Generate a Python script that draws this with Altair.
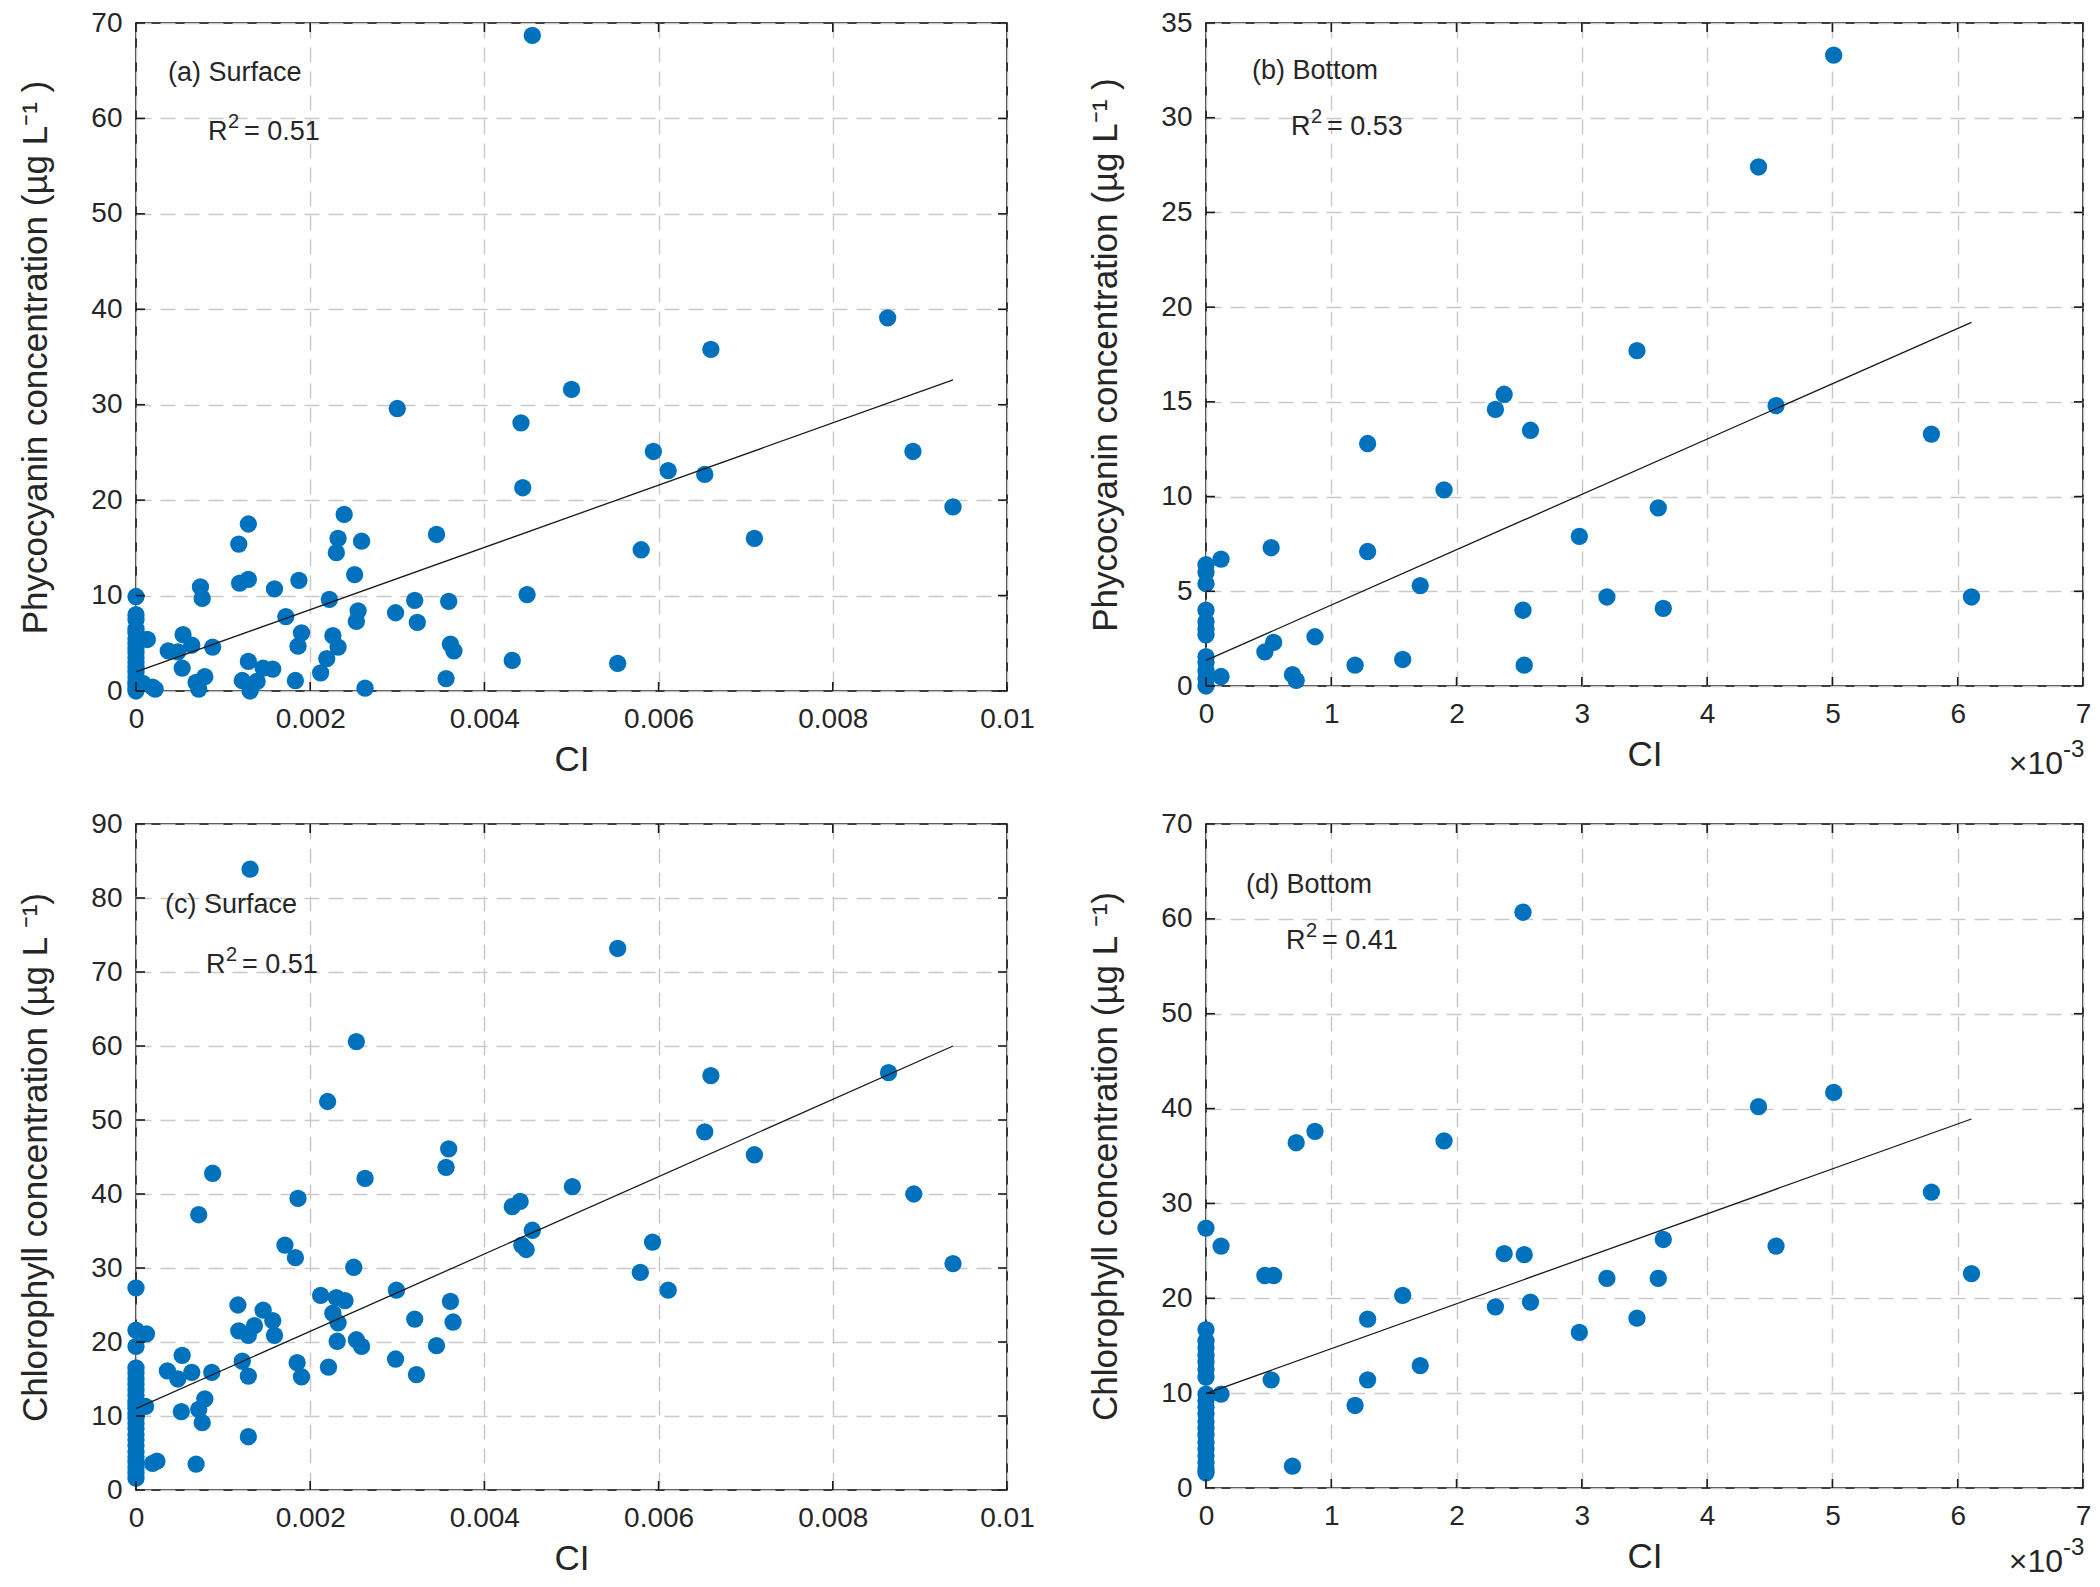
import altair as alt
import pandas as pd

FONT = "Liberation Sans"
BLUE = "#0072BD"

# ---------------- Panel (a): Surface, phycocyanin vs CI ----------------
a_ci = [0.00455, 0.00863, 0.0066, 0.0050, 0.0030, 0.00442, 0.00594, 0.00892, 0.00611, 0.00653,
        0.00444, 0.00938, 0.00239, 0.00129, 0.00345, 0.00232, 0.00259, 0.0071, 0.00118, 0.0058,
        0.0023, 0.00251, 0.00129, 0.00119, 0.00187, 0.00074, 0.00076, 0.00159, 0.00449, 0.00222,
        0.0032, 0.00359, 0.00255, 0.00298, 0.00253, 0.00323, 0.00172, 0.0019, 0.00054, 0.00013,
        0.00226, 0.00064, 0.00361, 0.00186, 0.00232, 0.00088, 0.00037, 0.00048, 0.00365, 0.00432,
        0.00553, 0.00129, 0.00219, 0.00053, 0.00146, 0.00157, 0.00212, 0.00079, 0.00356, 0.00183,
        0.00122, 0.00139, 0.00069, 0.00072, 0.00131, 0.00263, 0.00019, 0.00022, 0.00008,
        0, 0, 0, 0, 0, 0, 0, 0, 0, 0, 0, 0, 0, 0, 0, 0, 0, 0]
a_pc = [68.7, 39.1, 35.8, 31.6, 29.6, 28.1, 25.1, 25.1, 23.1, 22.7,
        21.3, 19.3, 18.5, 17.5, 16.4, 16.0, 15.7, 16.0, 15.4, 14.8,
        14.5, 12.2, 11.7, 11.3, 11.6, 10.9, 9.7, 10.7, 10.1, 9.6,
        9.5, 9.4, 8.4, 8.2, 7.3, 7.2, 7.8, 6.1, 5.9, 5.4,
        5.8, 4.8, 4.9, 4.7, 4.6, 4.6, 4.2, 4.1, 4.2, 3.2,
        2.9, 3.1, 3.4, 2.4, 2.4, 2.3, 1.9, 1.5, 1.3, 1.1,
        1.1, 1.0, 0.9, 0.2, 0.0, 0.3, 0.4, 0.2, 0.8,
        9.9, 8.0, 7.5, 6.5, 6.1, 5.5, 5.0, 4.5, 4.0, 3.5, 3.0, 2.5, 2.0, 1.5, 1.0, 0.7, 0.3, 0.0]
a_fit_ci = [0.0, 0.00938]
a_fit_pc = [2.0, 32.6]

# ---------------- Panel (b): Bottom, phycocyanin vs CI (x 10^-3) ----------------
b_ci_e3 = [5.01, 4.41, 3.44, 2.38, 2.31, 4.55, 2.59, 5.79, 1.29, 1.90,
           3.61, 2.98, 0.52, 1.29, 0.12, 1.71, 3.20, 6.11, 2.53, 3.65,
           0.87, 0.54, 0.47, 1.57, 1.19, 2.54, 0.69, 0.72, 0.12,
           0, 0, 0, 0, 0, 0, 0, 0, 0, 0, 0, 0]
b_pc = [33.3, 27.4, 17.7, 15.4, 14.6, 14.8, 13.5, 13.3, 12.8, 10.35,
        9.4, 7.9, 7.3, 7.1, 6.7, 5.3, 4.7, 4.7, 4.0, 4.1,
        2.6, 2.3, 1.8, 1.4, 1.1, 1.1, 0.6, 0.3, 0.5,
        6.4, 6.0, 5.4, 4.0, 3.4, 3.0, 2.7, 1.55, 1.25, 0.8, 0.4, 0.0]
b_fit_ci_e3 = [0.0, 6.11]
b_fit_pc = [1.35, 19.2]

# ---------------- Panel (c): Surface, chlorophyll vs CI ----------------
c_ci = [0.00131, 0.00553, 0.00253, 0.00864, 0.0066, 0.0022, 0.00653, 0.00359, 0.0071, 0.00356,
        0.00088, 0.00263, 0.00501, 0.00893, 0.00186, 0.00441, 0.00432, 0.00072, 0.00455, 0.00593,
        0.00171, 0.00443, 0.00448, 0.00183, 0.00938, 0.0025, 0.00579, 0.00299, 0.00611, 0.0,
        0.00212, 0.0023, 0.0024, 0.00361, 0.00117, 0.00146, 0.00226, 0.0032, 0.00157, 0.00364,
        0.00232, 0.00136, 0.00118, 0.0, 0.00012, 0.00129, 0.00159, 0.00253, 0.00231, 0.00259,
        0.00345, 0.0, 0.00053, 0.00298, 0.00122, 0.00185, 0.00221, 0.00036, 0.00064, 0.00087,
        0.00322, 0.00129, 0.0019, 0.00048, 0.00079, 0.00072, 0.00052, 0.00076, 0.00011, 0.00129,
        0.00024, 0.00019, 0.00069,
        0, 0, 0, 0, 0, 0, 0, 0, 0, 0, 0, 0, 0, 0, 0, 0, 0, 0, 0, 0, 0, 0]
c_chl = [83.9, 73.2, 60.6, 56.4, 56.0, 52.5, 48.4, 46.1, 45.3, 43.6,
         42.8, 42.1, 41.0, 40.0, 39.4, 39.0, 38.3, 37.2, 35.1, 33.5,
         33.1, 33.1, 32.5, 31.4, 30.6, 30.1, 29.4, 27.0, 27.0, 27.3,
         26.3, 26.0, 25.6, 25.5, 25.0, 24.3, 23.9, 23.1, 22.9, 22.7,
         22.6, 22.2, 21.5, 21.6, 21.1, 20.9, 20.9, 20.3, 20.1, 19.4,
         19.5, 19.4, 18.2, 17.7, 17.4, 17.2, 16.6, 16.1, 15.9, 15.9,
         15.6, 15.4, 15.3, 15.0, 12.3, 10.9, 10.6, 9.1, 11.3, 7.2,
         3.9, 3.6, 3.5,
         16.5, 15.8, 15.0, 14.3, 13.5, 12.8, 12.0, 11.5, 11.0, 10.3, 9.7, 9.0, 8.3, 7.5,
         6.8, 6.0, 5.2, 4.5, 3.8, 3.0, 2.3, 1.6]
c_fit_ci = [0.0, 0.00938]
c_fit_chl = [11.0, 60.0]

# ---------------- Panel (d): Bottom, chlorophyll vs CI (x 10^-3) ----------------
d_ci_e3 = [2.53, 5.01, 4.41, 0.87, 0.72, 1.90, 5.79, 3.65, 0.12, 4.55,
           2.38, 2.54, 6.11, 0.47, 0.54, 3.20, 3.61, 1.57, 2.59, 2.31,
           3.44, 1.29, 2.98, 1.71, 0.52, 1.29, 1.19, 0.12, 0.69,
           0, 0, 0, 0, 0, 0, 0, 0, 0, 0, 0, 0, 0, 0, 0, 0, 0, 0, 0, 0, 0]
d_chl = [60.7, 41.7, 40.2, 37.6, 36.4, 36.6, 31.2, 26.2, 25.5, 25.5,
         24.7, 24.6, 22.6, 22.4, 22.4, 22.1, 22.1, 20.3, 19.6, 19.1,
         17.9, 17.8, 16.4, 12.9, 11.4, 11.4, 8.7, 9.9, 2.3,
         27.4, 16.7, 15.5, 14.8, 14.0, 13.3, 12.5, 11.7, 9.9, 9.2, 8.5, 7.8, 7.0,
         6.3, 5.6, 4.8, 4.1, 3.4, 2.7, 2.0, 1.6]
d_fit_ci_e3 = [0.0, 6.11]
d_fit_chl = [9.95, 38.9]

# ticks
x_ticks_surface = [0, 0.002, 0.004, 0.006, 0.008, 0.01]
x_ticks_bottom = [0, 1, 2, 3, 4, 5, 6, 7]
y_ticks_a = [0, 10, 20, 30, 40, 50, 60, 70]
y_ticks_b = [0, 5, 10, 15, 20, 25, 30, 35]
y_ticks_c = [0, 10, 20, 30, 40, 50, 60, 70, 80, 90]
y_ticks_d = [0, 10, 20, 30, 40, 50, 60, 70]

PC_TITLE = "Phycocyanin concentration (µg L\u207b\u00b9 )"
CHL_TITLE = "Chlorophyll concentration (µg L  \u207b\u00b9)"

TICK_FS = 28
TITLE_FS = 35
ANN_FS = 27
TXT = "#262626"
TICK_LEN = 9


def panel(x, y, fx, fy, xdom, ydom, xticks, yticks, ytitle, w, h,
          label, r2val, pos_label, pos_r2, exponent=False, exp_base=88):
    df = pd.DataFrame({"ci": x, "v": y})
    fit = pd.DataFrame({"ci": fx, "v": fy})
    xt = pd.DataFrame({"ci": xticks})
    yt = pd.DataFrame({"v": yticks})
    grid = dict(grid=True, gridDash=[15, 9], gridColor="#c9c9c9", gridWidth=1.5,
                domain=False, ticks=False, labelFont=FONT, titleFont=FONT,
                labelFontSize=TICK_FS, titleFontSize=TITLE_FS, labelColor=TXT,
                titleColor=TXT, titleFontWeight="normal")
    xaxis = alt.Axis(values=xticks, title="CI", labelPadding=14, titlePadding=9,
                     labelExpr="format(datum.value, '~g')", labelFlush=False, **grid)
    yaxis = alt.Axis(values=yticks, title=ytitle, labelPadding=14, titlePadding=37,
                     labelFlush=False, **grid)
    xsc = alt.Scale(domain=xdom, nice=False, zero=False)
    ysc = alt.Scale(domain=ydom, nice=False, zero=False)
    xs = alt.X("ci:Q", scale=xsc, axis=xaxis)
    ys = alt.Y("v:Q", scale=ysc, axis=yaxis)

    pts = alt.Chart(df).mark_circle(size=300, color=BLUE, opacity=1).encode(x=xs, y=ys)
    line = alt.Chart(fit).mark_line(color="#1a1a1a", strokeWidth=1.3).encode(x="ci:Q", y="v:Q")

    # inward ticks on all four sides of the box
    tk = dict(color="#1a1a1a", strokeWidth=1.6)
    xtick_b = alt.Chart(xt).mark_rule(**tk).encode(
        x=alt.X("ci:Q", scale=xsc), y=alt.value(h), y2=alt.value(h - TICK_LEN))
    xtick_t = alt.Chart(xt).mark_rule(**tk).encode(
        x=alt.X("ci:Q", scale=xsc), y=alt.value(0), y2=alt.value(TICK_LEN))
    ytick_l = alt.Chart(yt).mark_rule(**tk).encode(
        y=alt.Y("v:Q", scale=ysc), x=alt.value(0), x2=alt.value(TICK_LEN))
    ytick_r = alt.Chart(yt).mark_rule(**tk).encode(
        y=alt.Y("v:Q", scale=ysc), x=alt.value(w), x2=alt.value(w - TICK_LEN))

    def txt(s, px, py, fs, align="left", baseline="middle"):
        return alt.Chart(pd.DataFrame({"t": [s]})).mark_text(
            font=FONT, fontSize=fs, align=align, baseline=baseline, color=TXT
        ).encode(x=alt.value(px), y=alt.value(py), text="t:N")

    rx, ry = pos_r2
    layers = [pts, line, xtick_b, xtick_t, ytick_l, ytick_r,
              txt(label, pos_label[0], pos_label[1], ANN_FS),
              txt("R", rx, ry, ANN_FS),
              txt("2", rx + 20, ry - 10, 20),
              txt("= " + r2val, rx + 36, ry, ANN_FS)]
    if exponent:
        layers.append(txt("\u00d710", w - 20, h + exp_base, 32, align="right", baseline="alphabetic"))
        layers.append(txt("-3", w - 20, h + exp_base - 17, 24, align="left", baseline="alphabetic"))
    return alt.layer(*layers).properties(width=w, height=h)


pa = panel(a_ci, a_pc, a_fit_ci, a_fit_pc, [0, 0.01], [0, 70], x_ticks_surface, y_ticks_a,
           PC_TITLE, 871, 668, "(a) Surface", "0.51", (32, 50), (72, 109))
pb = panel(b_ci_e3, b_pc, b_fit_ci_e3, b_fit_pc, [0, 7], [0, 35], x_ticks_bottom, y_ticks_b,
           PC_TITLE, 877, 663, "(b) Bottom", "0.53", (46, 48), (85, 104), exponent=True)
pc = panel(c_ci, c_chl, c_fit_ci, c_fit_chl, [0, 0.01], [0, 90], x_ticks_surface, y_ticks_c,
           CHL_TITLE, 871, 666, "(c) Surface", "0.51", (29, 81), (70, 141))
pd_ = panel(d_ci_e3, d_chl, d_fit_ci_e3, d_fit_chl, [0, 7], [0, 70], x_ticks_bottom, y_ticks_d,
            CHL_TITLE, 877, 664, "(d) Bottom", "0.41", (40, 61), (80, 117),
            exponent=True, exp_base=84)

chart = alt.concat(pa, pb, pc, pd_, columns=2, spacing={"row": 133, "column": 199}).properties(
    bounds="flush",
    padding={"left": 10, "top": 0, "right": 0, "bottom": 0},
).configure(background="white").configure_view(stroke="black", strokeWidth=1.6)

chart.save("out.html", embed_options={"renderer": "svg", "actions": False})
